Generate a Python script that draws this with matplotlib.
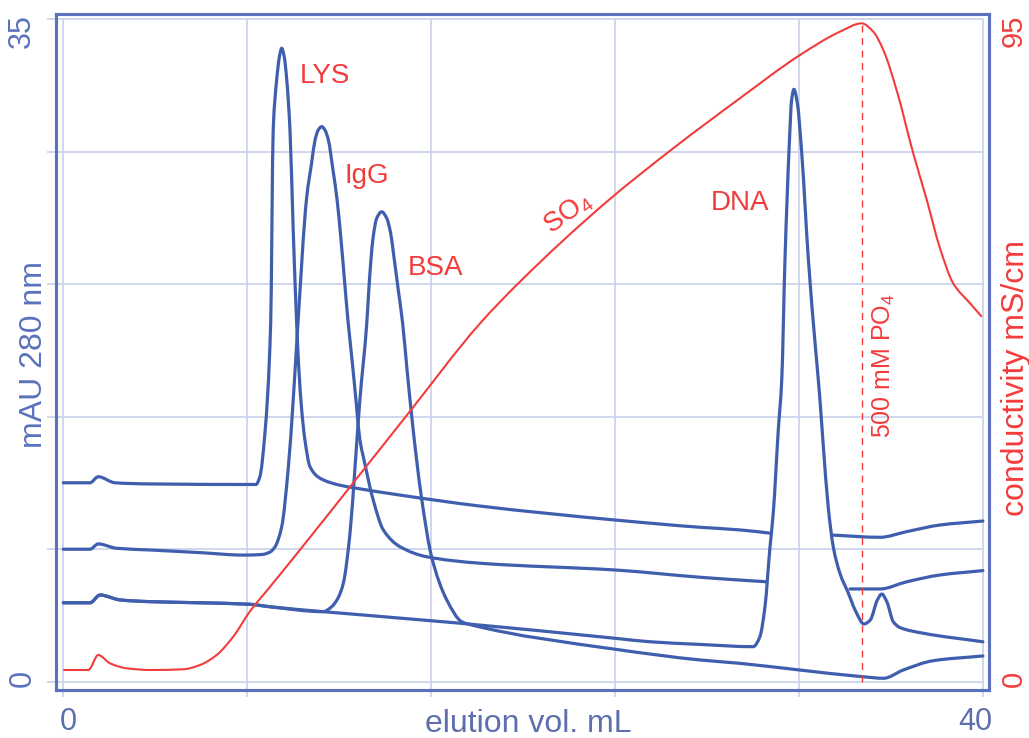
import numpy as np
import matplotlib.pyplot as plt
import matplotlib.transforms as mtransforms
from matplotlib.path import Path
from matplotlib.patches import PathPatch

plt.rcParams['font.family'] = ['Liberation Sans', 'DejaVu Sans']
plt.rcParams['mathtext.fontset'] = 'custom'
plt.rcParams['mathtext.rm'] = 'Liberation Sans'
plt.rcParams['mathtext.default'] = 'regular'

nan = np.nan

# UV traces (mAU 280 nm) vs elution volume (mL); nan = hidden behind the DNA peak
lys_x = [0.0, 1.16, 1.52, 2.25, 3.77, 8.38, 8.55, 8.77, 9.02, 9.13, 9.28, 9.40, 9.50,
         9.61, 9.72, 9.86, 10.0, 10.15, 10.24, 10.37, 10.51, 10.73, 11.17, 12.04, 12.76,
         14.65, 18.13, 24.03, 27.69, 29.43, 30.81, nan, 33.42, 35.52, 36.69, 38.14, 40.0]
lys_y = [10.51, 10.51, 10.83, 10.51, 10.45, 10.42, 10.83, 13.14, 18.95, 29.15, 31.79, 33.02, 33.47,
         33.02, 31.79, 29.15, 23.87, 18.95, 16.64, 14.35, 12.77, 11.36, 10.75, 10.38, 10.22,
         9.86, 9.28, 8.54, 8.16, 8.02, 7.84, nan, 7.75, 7.63, 7.93, 8.28, 8.49]

igg_x = [0.0, 1.16, 1.52, 2.32, 3.77, 5.95, 7.83, 8.64, 8.99, 9.21, 9.50, 9.79, 10.0,
         10.18, 10.59, 10.80, 10.95, 11.09, 11.24, 11.38, 11.53, 11.73, 11.91, 12.08, 12.23,
         12.38, 12.56, 12.73, 12.90, 13.05, 13.48, 13.92, 14.65, 15.81, 18.13, 24.03, 27.69,
         29.43, 30.60, nan, 34.22, 35.52, 36.69, 38.14, 40.0]
igg_y = [7.0, 7.0, 7.28, 7.05, 6.96, 6.82, 6.69, 6.72, 6.85, 7.13, 8.19, 11.36, 14.88,
         18.42, 25.63, 27.4, 28.62, 29.15, 29.33, 29.15, 28.62, 27.04, 25.45, 23.34, 21.22,
         19.11, 17.0, 14.88, 12.77, 11.89, 9.60, 8.02, 7.13, 6.60, 6.26, 5.90, 5.52,
         5.37, 5.28, nan, 4.90, 4.90, 5.28, 5.64, 5.87]

bsa_x = [0.0, 1.16, 1.60, 2.47, 3.77, 5.95, 8.12, 8.99, 11.31, 11.67, 11.95, 12.18, 12.47,
         12.69, 12.90, 13.20, 13.27, 13.37, 13.48, 13.63, 13.85, 14.07, 14.24, 14.38, 14.57,
         14.76, 14.95, 15.15, 15.37, 15.59, 16.02, 16.68, 17.33, 17.69, 24.03, 27.69, 29.43,
         32.01, 34.80, 35.67, 36.54, 37.84, 40.0]
bsa_y = [4.17, 4.17, 4.58, 4.32, 4.23, 4.17, 4.09, 3.96, 3.70, 3.96, 4.42, 5.20, 7.84,
         11.36, 14.88, 18.94, 20.34, 22.11, 23.51, 24.48, 24.83, 24.48, 23.69, 22.46, 20.70,
         18.94, 16.50, 14.09, 11.70, 9.64, 6.60, 4.32, 3.17, 3.02, 1.71, 1.15, 0.97,
         0.62, 0.26, 0.18, 0.62, 1.11, 1.36]

dna_x = [0.0, 1.16, 1.60, 2.47, 3.77, 5.95, 8.12, 8.99, 11.31, 17.26, 24.03, 25.52, 27.69,
         30.01, 30.30, 30.52, 30.74, 30.88, 31.10, 31.25, 31.39, 31.58, 31.68, 31.78, 31.93,
         32.12, 32.41, 32.70, 32.89, 33.06, 33.27, 33.49, 33.78, 34.15, 34.44, 34.83, 35.10,
         35.41, 35.60, 35.82, 36.10, 36.38, 37.41, 40.0]
dna_y = [4.17, 4.17, 4.58, 4.32, 4.23, 4.17, 4.09, 3.96, 3.70, 3.09, 2.29, 2.11, 1.97,
         1.85, 2.38, 3.96, 7.13, 8.90, 13.30, 15.94, 22.28, 28.45, 30.74, 31.30, 30.56,
         27.92, 22.28, 17.88, 15.24, 12.42, 9.25, 7.13, 5.73, 4.67, 3.79, 3.05, 3.26,
         4.32, 4.63, 4.23, 3.17, 2.87, 2.56, 2.11]

# conductivity (mS/cm)
cond_x = [0.0, 1.09, 1.52, 2.03, 2.76, 3.77, 5.22, 5.95, 6.67, 7.39, 8.12, 8.99, 10.30,
          12.91, 14.94, 18.13, 19.86, 23.64, 26.53, 29.43, 32.04, 33.78, 34.73, 35.23, 35.67,
          36.25, 36.97, 37.56, 38.13, 38.71, 39.44, 39.95]
cond_y = [1.68, 1.68, 3.83, 2.64, 1.92, 1.68, 1.78, 2.40, 3.83, 6.45, 10.10, 13.60, 18.93,
          29.76, 38.20, 51.40, 57.36, 68.84, 76.50, 83.67, 89.87, 93.22, 94.42, 93.22, 90.59,
          84.80, 75.78, 69.08, 62.20, 57.13, 54.27, 52.35]

traces = [(lys_x, lys_y), (igg_x, igg_y), (bsa_x, bsa_y), (dna_x, dna_y)]
peaks = [('LYS', 11.38, 32.0), ('IgG', 13.2, 26.7), ('BSA', 16.17, 21.86), ('DNA', 29.44, 25.28)]

BLUE = '#3f5fae'
AXIS = '#5a72bc'
LABEL = '#5d6fac'
RED = '#f23c3c'
GRID = '#cdd3ea'


def smooth_path(xs, ys):
    """Monotone cubic (pchip-style) Bezier path through the points, split at nan."""
    xs = np.asarray(xs, float)
    ys = np.asarray(ys, float)
    verts, codes = [], []
    for idx in np.split(np.arange(len(xs)), np.where(np.isnan(xs))[0]):
        idx = idx[~np.isnan(xs[idx])]
        x, y = xs[idx], ys[idx]
        h = np.diff(x)
        d = np.diff(y) / h
        m = np.empty_like(x)
        m[0], m[-1] = d[0], d[-1]
        for k in range(1, len(x) - 1):
            if d[k - 1] * d[k] <= 0:
                m[k] = 0.0
            else:
                w1, w2 = 2 * h[k] + h[k - 1], h[k] + 2 * h[k - 1]
                m[k] = (w1 + w2) / (w1 / d[k - 1] + w2 / d[k])
        verts.append((x[0], y[0]))
        codes.append(Path.MOVETO)
        for k in range(len(x) - 1):
            verts += [(x[k] + h[k] / 3, y[k] + m[k] * h[k] / 3),
                      (x[k + 1] - h[k] / 3, y[k + 1] - m[k + 1] * h[k] / 3),
                      (x[k + 1], y[k + 1])]
            codes += [Path.CURVE4] * 3
    return Path(verts, codes)


def nudge(text, dx, dy):
    text.set_transform(text.get_transform() +
                       mtransforms.ScaledTranslation(dx / 100, dy / 100, fig.dpi_scale_trans))


fig = plt.figure(figsize=(10.29, 7.38), dpi=100)
ax = fig.add_axes([56 / 1029, 48 / 738, 933 / 1029, 676 / 738])
ax.set_xlim(-0.3175, 40.265)
ax.set_ylim(-0.4386, 35.28)
ax2 = ax.twinx()
ax2.set_ylim(-0.4386 * 95 / 35, 35.28 * 95 / 35)

# grid, running a little past the frame on the left and bottom
ax.hlines(np.arange(0, 36, 7), -0.71, 40, color=GRID, lw=1.3, clip_on=False, zorder=0.5)
ax.vlines(np.arange(0, 41, 8), -0.8, 35, color=GRID, lw=1.3, clip_on=False, zorder=0.5)

for xs, ys in traces:
    ax.add_patch(PathPatch(smooth_path(xs, ys), fill=False, edgecolor=BLUE, lw=2.3,
                           joinstyle='round', capstyle='round', zorder=2))

ax2.add_patch(PathPatch(smooth_path(cond_x, cond_y), fill=False, edgecolor=RED, lw=1.5, zorder=3))
i_max = int(np.argmax(cond_y))
ax2.plot([cond_x[i_max]] * 2, [0, cond_y[i_max]], color=RED, lw=1.0, ls=(0, (5, 4)), zorder=3)

for name, tx, ty in peaks:
    ax.text(tx, ty, name, color=RED, fontsize=20, ha='center', va='center')
ax.text(21.95, 24.77, 'SO$_4$', color=RED, fontsize=20, rotation=36,
        rotation_mode='anchor', ha='center', va='center')
ax.text(35.70, 16.73, '500 mM PO$_4$', color=RED, fontsize=18, rotation=90,
        ha='center', va='center')

# axes, ticks and labels
for a in (ax, ax2):
    for sp in a.spines.values():
        sp.set_color(AXIS)
        sp.set_linewidth(2.2)

ax.set_xticks([0, 40], labels=['0', '40'])
ax.set_yticks([0, 35], labels=['0', '35'])
ax2.set_yticks([0, 95], labels=['0', '95'])
ax.tick_params(axis='x', length=0, pad=12.5, labelsize=22, labelcolor=LABEL)
ax.tick_params(axis='y', length=0, pad=13.5, labelsize=22, labelcolor=AXIS, labelrotation=90)
ax2.tick_params(axis='y', length=0, pad=8, labelsize=21, labelcolor=RED, labelrotation=90)

xlabels = ax.get_xticklabels()
nudge(xlabels[0], 5, 0)
nudge(xlabels[1], -8, 0)

# top labels sit just under the upper frame
for lab in (ax.get_yticklabels()[1], ax2.get_yticklabels()[1]):
    lab.set_va('top')
    nudge(lab, 0, 5)

ax.set_xlabel('elution vol. mL', fontsize=23, color=LABEL)
ax.xaxis.set_label_coords(0.506, -0.0285)
ax.set_ylabel('mAU 280 nm', fontsize=23, color=AXIS)
ax.yaxis.set_label_coords(-0.0078, 0.4956)
ax2.set_ylabel('conductivity mS/cm', fontsize=23, color=RED)
ax2.yaxis.set_label_coords(1.0129, 0.4615)

fig.savefig('out.png', dpi=100)
